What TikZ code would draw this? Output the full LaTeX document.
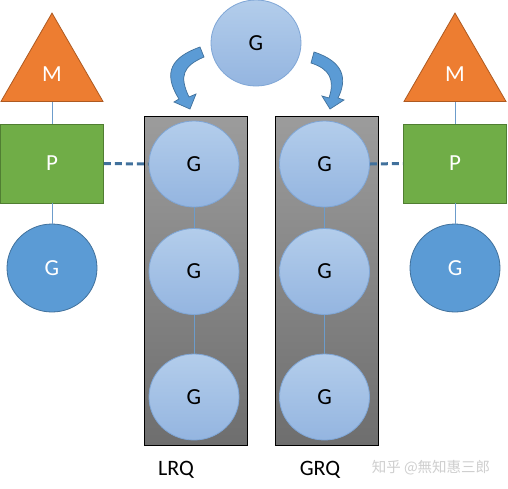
\documentclass[tikz,border=0pt]{standalone}
\usepackage{fontspec}
\setmainfont{Carlito}
\newfontfamily\cjk{Noto Sans CJK SC}
\usetikzlibrary{shapes.geometric}
\definecolor{orangeF}{HTML}{ED7D31}
\definecolor{orangeD}{HTML}{AE5A21}
\definecolor{greenF}{HTML}{70AD47}
\definecolor{greenD}{HTML}{507E32}
\definecolor{blueF}{HTML}{5B9BD5}
\definecolor{blueD}{HTML}{41719C}
\definecolor{lbT}{HTML}{B3CDEB}
\definecolor{lbB}{HTML}{94B5E0}
\definecolor{lbD}{HTML}{7FA6D6}
\definecolor{linkC}{HTML}{6C9CCB}
\definecolor{wm}{HTML}{CFCFCF}
\definecolor{qT}{HTML}{9C9C9C}
\definecolor{qB}{HTML}{6E6E6E}
\tikzset{
  lightg/.style={ellipse, draw=lbD, line width=0.8pt, top color=lbT, bottom color=lbB,
    minimum width=90pt, minimum height=86pt, inner sep=0pt, font=\fontsize{23}{26}\selectfont, text=black},
  solidg/.style={ellipse, draw=blueD, line width=0.8pt, fill=blueF,
    minimum width=90pt, minimum height=88pt, inner sep=0pt, font=\fontsize{23}{26}\selectfont, text=white},
  pbox/.style={rectangle, draw=greenD, line width=0.8pt, fill=greenF,
    minimum width=103pt, minimum height=79pt, inner sep=0pt, font=\fontsize{23}{26}\selectfont, text=white},
  mtri/.style={regular polygon, regular polygon sides=3, draw=orangeD, line width=0.8pt, fill=orangeF,
    minimum size=117.8pt, inner sep=0pt},
  qbox/.style={rectangle, draw=black, line width=0.9pt, top color=qT, bottom color=qB,
    minimum width=103pt, minimum height=329pt, inner sep=0pt},
  link/.style={draw=linkC, line width=0.8pt},
  dlink/.style={draw=blueD, line width=3pt, dash pattern=on 7pt off 4pt},
  barrow/.style={fill=blueF, draw=blueD, line width=0.7pt, line join=miter},
  qlabel/.style={font=\fontsize{22}{26}\selectfont, text=black, inner sep=0pt},
  mlabel/.style={font=\fontsize{23}{26}\selectfont, text=white, inner sep=0pt},
}
\begin{document}
\begin{tikzpicture}[x=1pt,y=-1pt]
\useasboundingbox (0,0) rectangle (508,488);
\fill[white] (0,0) rectangle (508,488);
% queue boxes
\node[qbox] (lrq) at (195.5,280.5) {};
\node[qbox] (grq) at (326.5,280.5) {};
% left side
\node[mtri] (M1) at (52,72) {};
\node[mlabel] (M1t) at (52,74) {M};
\node[pbox] (P1) at (52,163.5) {P};
\node[solidg] (S1) at (52,268) {G};
% right side
\node[mtri] (M2) at (455,72) {};
\node[mlabel] (M2t) at (455,74) {M};
\node[pbox] (P2) at (455,163.5) {P};
\node[solidg] (S2) at (455,268) {G};
% top G
\node[lightg] (T) at (256,43) {G};
% queue Gs
\node[lightg] (L1) at (194,164) {G};
\node[lightg] (L2) at (194,271.5) {G};
\node[lightg] (L3) at (194,397) {G};
\node[lightg] (R1) at (324.5,164) {G};
\node[lightg] (R2) at (324.5,271.5) {G};
\node[lightg] (R3) at (324.5,397) {G};
% links
\draw[link] (M1.south) -- (P1.north);
\draw[link] (P1.south) -- (S1.north);
\draw[link] (M2.south) -- (P2.north);
\draw[link] (P2.south) -- (S2.north);
\draw[link] (L1.south) -- (L2.north);
\draw[link] (L2.south) -- (L3.north);
\draw[link] (R1.south) -- (R2.north);
\draw[link] (R2.south) -- (R3.north);
\draw[dlink] (P1.east) -- (L1.west);
\draw[dlink] (R1.east) -- (P2.west);
% bent arrows
\draw[barrow] (200,47) .. controls (172,57) and (162,72) .. (179,99) -- (174,102) -- (190,109) -- (196,94) -- (189,97) .. controls (179,76) and (183,66) .. (204,57) -- cycle;
\draw[barrow] (314,52) .. controls (345,62) and (347,80) .. (338,98) -- (344,100) -- (330,109) -- (322,96) -- (329,98) .. controls (335,80) and (330,69) .. (311,63) -- cycle;
% labels
\node[qlabel, anchor=base] (lrqlab) at (176,475) {LRQ};
\node[qlabel, anchor=base] (grqlab) at (320,475) {GRQ};
\node[anchor=base, inner sep=0pt, text=wm, font=\cjk\fontsize{14.5}{16}\selectfont] (wmk) at (431,472) {知乎 @無知惠三郎};
\end{tikzpicture}
\end{document}
